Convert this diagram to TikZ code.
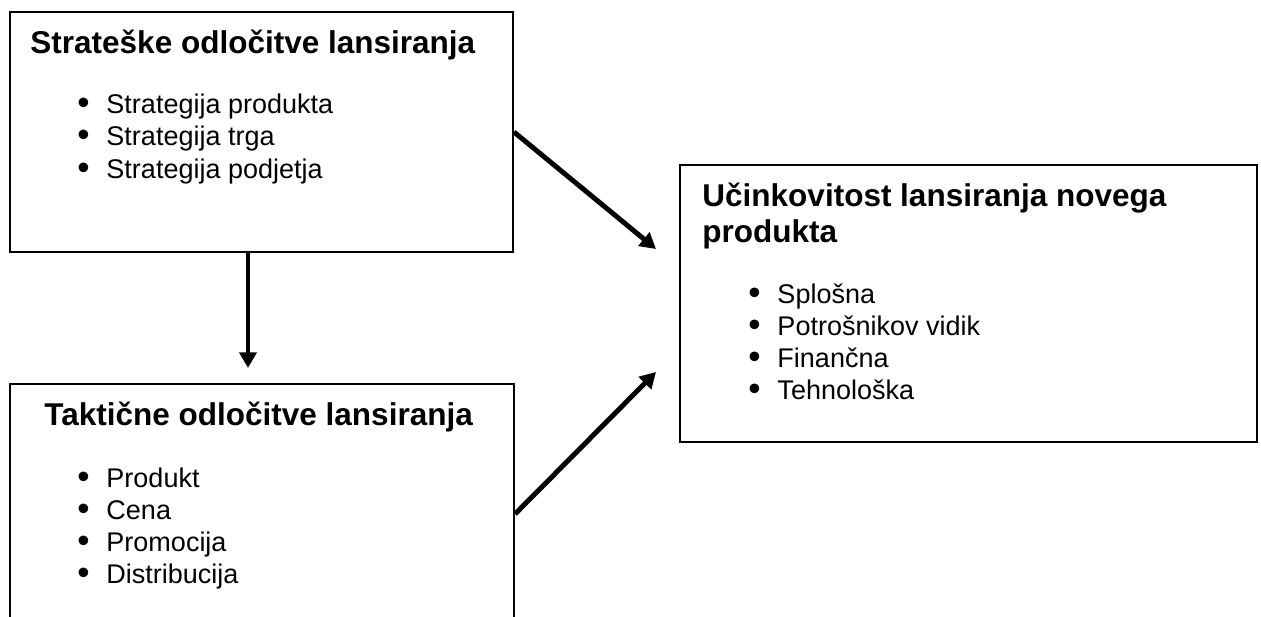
\documentclass[tikz,border=0pt]{standalone}
\usepackage{fontspec}
\setmainfont{Liberation Sans}
\usetikzlibrary{arrows.meta,fit}
\newcommand\titlefont{\bfseries\fontsize{14}{16.8}\selectfont}
\newcommand\itemfont{\fontsize{12}{14.4}\selectfont}
\newcommand\bul{\makebox[12.9pt][l]{\raisebox{-0.5pt}{\scalebox{1.3}{\textbullet}}}}
\tikzset{
  box/.style={draw, line width=0.9pt, inner sep=0pt},
  ttl/.style={font=\titlefont, anchor=base west, inner sep=0pt},
  itm/.style={font=\itemfont, anchor=base west, inner sep=0pt},
  arr/.style={line width=2.2pt, -{Triangle[length=7pt,width=7.6pt]}}
}
\begin{document}
\begin{tikzpicture}[x=0.4444pt,y=-0.4444pt]
\useasboundingbox (0,0) rectangle (1261,616);
% boxes
\node[box, fit={(10,12) (513,252)}] (strat) {};
\node[box, fit={(10,384) (514,644)}] (takt) {};
\node[box, fit={(680,165) (1257,442)}] (ucin) {};
% strateske odlocitve
\node[ttl] (stratT) at (30,53) {Strateške odločitve lansiranja};
\node[itm] (strat1) at (77,113) {\bul Strategija produkta};
\node[itm] (strat2) at (77,145.5) {\bul Strategija trga};
\node[itm] (strat3) at (77,178) {\bul Strategija podjetja};
% takticne odlocitve
\node[ttl] (taktT) at (44,425) {Taktične odločitve lansiranja};
\node[itm] (takt1) at (77,487) {\bul Produkt};
\node[itm] (takt2) at (77,519) {\bul Cena};
\node[itm] (takt3) at (77,551) {\bul Promocija};
\node[itm] (takt4) at (77,583) {\bul Distribucija};
% ucinkovitost
\node[ttl] (ucinT) at (702,206) {Učinkovitost lansiranja novega};
\node[ttl] (ucinT2) at (702,242) {produkta};
\node[itm] (ucin1) at (748,303) {\bul Splošna};
\node[itm] (ucin2) at (748,335) {\bul Potrošnikov vidik};
\node[itm] (ucin3) at (748,367) {\bul Finančna};
\node[itm] (ucin4) at (748,399) {\bul Tehnološka};
% arrows
\coordinate (tip1) at (656,249);
\coordinate (tip2) at (248,368);
\coordinate (tip3) at (656,372);
\draw[arr] (strat.east) -- (tip1);
\draw[arr] (strat.south -| tip2) -- (tip2);
\draw[arr] (takt.east) -- (tip3);
\end{tikzpicture}
\end{document}
